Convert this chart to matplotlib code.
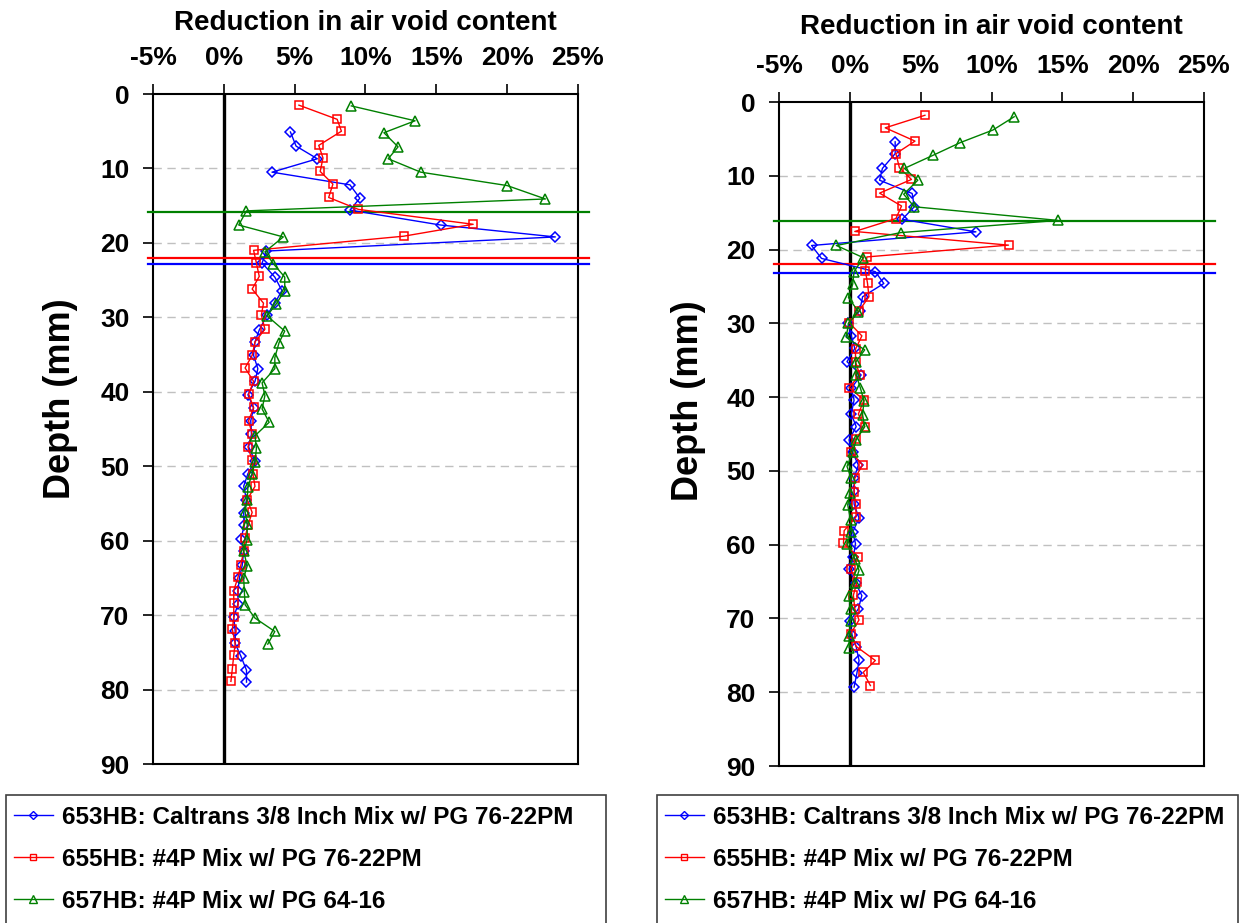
import matplotlib
matplotlib.use("Agg")
import matplotlib.pyplot as plt
from matplotlib.ticker import FuncFormatter, MultipleLocator
from matplotlib.lines import Line2D
from matplotlib.patches import Rectangle

plt.rcParams["font.family"] = ["Liberation Sans", "DejaVu Sans"]
plt.rcParams["font.weight"] = "bold"

# ---- series labels -------------------------------------------------------
labels = [
    "653HB: Caltrans 3/8 Inch Mix w/ PG 76-22PM",
    "655HB: #4P Mix w/ PG 76-22PM",
    "657HB: #4P Mix w/ PG 64-16",
]

# ---- left section: depth (mm) and reduction in air voids (%) -------------
left_653_depth = [5.1, 7.0, 8.7, 10.5, 12.2, 14.0, 15.6, 17.6, 19.2, 21.1,
                  22.7, 24.6, 26.4, 28.1, 29.7, 31.7, 33.3, 35.1, 36.9, 38.6,
                  40.4, 42.2, 43.9, 45.7, 47.4, 49.3, 51.0, 52.7, 54.5, 56.3,
                  57.9, 59.8, 61.4, 63.3, 65.0, 66.7, 68.5, 70.3, 72.1, 73.8,
                  75.5, 77.4, 79.0]
left_653_red = [4.7, 5.1, 6.6, 3.4, 8.9, 9.6, 8.9, 15.3, 23.4, 3.0,
                2.7, 3.6, 4.1, 3.6, 3.05, 2.5, 2.2, 2.1, 2.4, 2.2,
                1.7, 2.1, 1.9, 1.95, 1.75, 2.2, 1.7, 1.4, 1.6, 1.4,
                1.45, 1.2, 1.4, 1.3, 1.1, 1.0, 1.0, 0.7, 0.8, 0.8,
                1.2, 1.6, 1.6]

left_655_depth = [1.5, 3.4, 5.0, 6.9, 8.6, 10.4, 12.1, 13.9, 15.5, 17.5,
                  19.1, 21.0, 22.7, 24.5, 26.2, 28.1, 29.7, 31.6, 33.3, 35.1,
                  36.8, 38.6, 40.3, 42.1, 43.9, 45.7, 47.4, 49.2, 51.0, 52.7,
                  54.5, 56.2, 57.95, 59.6, 61.4, 63.3, 64.9, 66.7, 68.4, 70.3,
                  71.9, 73.8, 75.4, 77.2, 78.9]
left_655_red = [5.3, 8.0, 8.3, 6.7, 7.0, 6.8, 7.7, 7.4, 9.5, 17.6,
                12.7, 2.1, 2.3, 2.5, 2.0, 2.8, 2.65, 2.9, 2.2, 2.0,
                1.5, 2.1, 1.75, 2.1, 1.75, 2.0, 1.7, 2.0, 2.05, 2.2,
                1.65, 2.0, 1.7, 1.5, 1.4, 1.2, 1.0, 0.7, 0.7, 0.7,
                0.6, 0.8, 0.7, 0.6, 0.5]

left_657_depth = [1.6, 3.6, 5.2, 7.1, 8.7, 10.5, 12.3, 14.1, 15.7, 17.6,
                  19.2, 21.2, 22.8, 24.6, 26.4, 28.2, 29.8, 31.85, 33.4, 35.4,
                  36.9, 38.8, 40.5, 42.3, 44.1, 45.9, 47.6, 49.4, 51.0, 52.8,
                  54.5, 56.1, 57.8, 59.85, 61.4, 63.4, 65.0, 66.9, 68.6, 70.4,
                  72.2, 73.9]
left_657_red = [9.0, 13.5, 11.3, 12.3, 11.6, 13.9, 20.0, 22.7, 1.6, 1.05,
                4.2, 2.9, 3.5, 4.3, 4.3, 3.7, 3.05, 4.3, 3.9, 3.6,
                3.6, 2.7, 2.9, 2.7, 3.2, 2.2, 2.3, 2.2, 2.0, 1.7,
                1.65, 1.5, 1.65, 1.65, 1.4, 1.65, 1.4, 1.45, 1.5, 2.2,
                3.6, 3.1]

left_limits = [22.9, 22.0, 15.9]   # 653HB, 655HB, 657HB

# ---- right section --------------------------------------------------------
right_653_depth = [5.4, 7.0, 9.0, 10.6, 12.4, 14.2, 15.9, 17.6, 19.45, 21.2,
                   23.0, 24.6, 26.4, 28.3, 30.0, 31.7, 33.4, 35.2, 37.0, 38.8,
                   40.4, 42.3, 44.0, 45.8, 47.5, 49.2, 51.0, 52.7, 54.5, 56.4,
                   58.3, 59.85, 61.65, 63.3, 65.2, 66.9, 68.7, 70.4, 72.2, 73.85,
                   75.7, 77.4, 79.3]
right_653_red = [3.2, 3.2, 2.3, 2.1, 4.4, 4.55, 3.7, 8.9, -2.7, -2.0,
                 1.8, 2.4, 0.9, 0.7, -0.1, 0.1, 0.35, -0.2, 0.8, 0.1,
                 0.3, 0.1, 0.45, -0.05, 0.2, 0.6, 0.3, 0.3, 0.3, 0.65,
                 0.2, 0.4, 0.25, -0.05, 0.4, 0.85, 0.6, 0.0, 0.15, 0.45,
                 0.65, 0.5, 0.3]

right_655_depth = [1.8, 3.5, 5.3, 7.0, 8.9, 10.5, 12.35, 14.1, 15.8, 17.55,
                   19.4, 21.0, 22.9, 24.6, 26.4, 28.3, 29.9, 31.7, 33.5, 35.2,
                   37.0, 38.7, 40.4, 42.3, 44.0, 45.7, 47.4, 49.2, 51.0, 52.8,
                   54.5, 56.2, 58.1, 59.8, 61.65, 63.3, 65.1, 66.85, 68.7, 70.2,
                   72.1, 73.8, 75.7, 77.3, 79.1]
right_655_red = [5.3, 2.5, 4.6, 3.25, 3.5, 4.35, 2.1, 3.65, 3.25, 0.35,
                 11.2, 1.2, 1.1, 1.25, 1.35, 0.65, -0.05, 0.85, 0.4, 0.4,
                 0.7, -0.05, 1.0, 0.6, 1.05, 0.4, 0.05, 0.9, 0.35, 0.3,
                 0.4, 0.45, -0.4, -0.45, 0.6, 0.05, 0.5, 0.25, 0.35, 0.65,
                 0.05, 0.45, 1.8, 0.95, 1.45]

right_657_depth = [2.0, 3.8, 5.5, 7.2, 9.0, 10.6, 12.5, 14.2, 16.05, 17.7,
                   19.45, 21.1, 23.0, 24.7, 26.5, 28.4, 30.0, 31.9, 33.6, 35.3,
                   37.0, 38.8, 40.5, 42.4, 44.0, 45.8, 47.5, 49.4, 51.0, 53.0,
                   54.6, 56.6, 58.3, 59.9, 61.9, 63.5, 65.2, 67.0, 68.7, 70.4,
                   72.4, 73.95]
right_657_red = [11.6, 10.1, 7.8, 5.9, 3.85, 4.8, 3.8, 4.55, 14.7, 3.6,
                 -0.95, 0.95, 0.3, 0.2, -0.1, 0.6, -0.1, -0.25, 1.05, 0.4,
                 0.45, 0.75, 1.0, 0.9, 1.05, 0.45, 0.2, -0.2, 0.1, 0.0,
                 -0.15, 0.05, 0.1, -0.2, 0.35, 0.65, 0.35, -0.05, 0.05, 0.05,
                 -0.05, -0.05]

right_limits = [23.2, 22.0, 16.1]

x_ticks = [-5, 0, 5, 10, 15, 20, 25]
y_ticks = [0, 10, 20, 30, 40, 50, 60, 70, 80, 90]

colors = ["#0000ff", "#ff0000", "#008000"]
markers = ["D", "s", "^"]
msizes = [5.0, 6.0, 7.0]

W, H = 1243, 923
fig = plt.figure(figsize=(W / 100, H / 100), dpi=100)


def make_panel(rect, series, limits, ylab_xy, title_pad):
    ax = fig.add_axes(rect)
    ax.set_xlim(x_ticks[0], x_ticks[-1])
    ax.set_ylim(y_ticks[-1], y_ticks[0])
    ax.xaxis.set_major_locator(MultipleLocator(5))
    ax.yaxis.set_major_locator(MultipleLocator(10))
    ax.xaxis.set_major_formatter(FuncFormatter(lambda v, p: f"{v:.0f}%"))
    ax.xaxis.tick_top()
    ax.xaxis.set_label_position("top")
    ax.tick_params(axis="x", direction="out", length=7, width=1.2,
                   labelsize=19, pad=10, top=True, bottom=False)
    ax.tick_params(axis="y", direction="out", length=7, width=1.2,
                   labelsize=19, pad=10, left=True, right=False)
    for lab in ax.get_xticklabels() + ax.get_yticklabels():
        lab.set_fontweight("bold")
    for sp in ax.spines.values():
        sp.set_linewidth(1.5)
        sp.set_color("black")

    # dashed depth grid
    for d in y_ticks[1:-1]:
        ax.axhline(d, color="#c0c0c0", lw=1.0, ls=(0, (6, 4)), zorder=1)
    # zero reference
    ax.axvline(0, color="black", lw=2.4, zorder=2)

    for (depth, red), c, m, ms in zip(series, colors, markers, msizes):
        ax.plot(red, depth, color=c, lw=1.0, marker=m, ms=ms,
                mfc="none", mec=c, mew=1.1, zorder=4)
    for lim, c in zip(limits, colors):
        ax.axhline(lim, xmin=-0.012, xmax=1.025, color=c, lw=1.6,
                   clip_on=False, zorder=3)

    ax.set_xlabel("Reduction in air void content", fontsize=20,
                  fontweight="bold", labelpad=title_pad)
    ax.set_ylabel("Depth (mm)", fontsize=26, fontweight="bold")
    ax.yaxis.set_label_coords(*ylab_xy)
    return ax


left_series = [(left_653_depth, left_653_red),
               (left_655_depth, left_655_red),
               (left_657_depth, left_657_red)]
right_series = [(right_653_depth, right_653_red),
                (right_655_depth, right_655_red),
                (right_657_depth, right_657_red)]

ax1 = make_panel([153 / W, 1 - 764 / H, 425 / W, 670 / H], left_series,
                 left_limits, (-0.177, 0.545), 12)
ax2 = make_panel([779 / W, 1 - 766 / H, 425 / W, 664 / H], right_series,
                 right_limits, (-0.172, 0.55), 15)

handles = [Line2D([], [], color=c, lw=1.0, marker=m, ms=ms * 0.75,
                  mfc="none", mec=c, mew=1.0)
           for c, m, ms in zip(colors, markers, msizes)]

for x0, x1 in [(6, 606), (657, 1238)]:
    # legend frame runs past the lower edge of the figure
    fig.patches.append(Rectangle((x0 / W, -0.05), (x1 - x0) / W,
                                 (H - 795) / H + 0.05,
                                 transform=fig.transFigure, fill=False,
                                 edgecolor="#404040", lw=1.2))
    fig.legend(handles, labels, loc="upper left",
               bbox_to_anchor=(x0 / W, 1 - 799 / H, (x1 - x0) / W, 0.001),
               mode="expand", frameon=False, borderaxespad=0,
               borderpad=0.32, handlelength=1.6, handletextpad=0.4,
               labelspacing=0.78, prop={"size": 17.5, "weight": "bold"})

fig.savefig("out.png", dpi=100)
